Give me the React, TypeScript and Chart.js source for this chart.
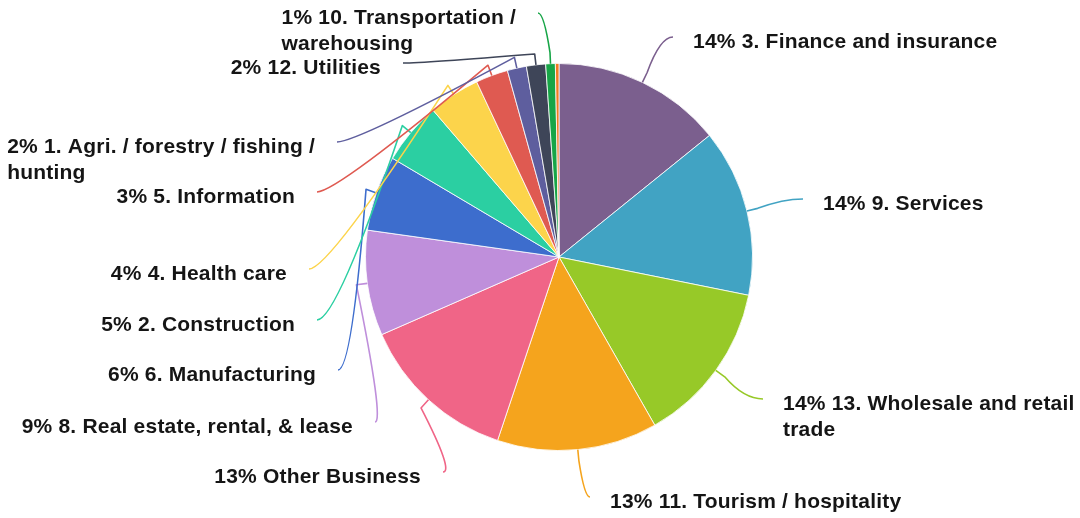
import React, { useEffect, useRef } from "react";
import { Chart, registerables } from "chart.js";

Chart.register(...registerables);

const categories = [
  "3. Finance and insurance",
  "9. Services",
  "13. Wholesale and retail trade",
  "11. Tourism / hospitality",
  "Other Business",
  "8. Real estate, rental, & lease",
  "6. Manufacturing",
  "2. Construction",
  "4. Health care",
  "5. Information",
  "1. Agri. / forestry / fishing / hunting",
  "12. Utilities",
  "10. Transportation / warehousing",
  "7.",
];

const values = [14.2, 14.0, 13.6, 13.4, 13.3, 8.8, 6.3, 5.2, 4.3, 2.7, 1.6, 1.6, 0.8, 0.3];

const colors = [
  "#7b5f8e",
  "#41a3c3",
  "#97c928",
  "#f5a41d",
  "#f06587",
  "#bf8fdb",
  "#3d6dcd",
  "#2bcfa2",
  "#fcd44b",
  "#df5a51",
  "#5e5e9e",
  "#3e4558",
  "#17a547",
  "#f07b22",
];

// label anchor offsets (end of leader line) relative to pie centre; layout only
const labelOffsets: ([number, number] | null)[] = [
  [114, -220],
  [244, -58],
  [204, 142],
  [31, 240],
  [-116, 215],
  [-184, 165],
  [-221, 113],
  [-242, 63],
  [-250, 12],
  [-242, -65],
  [-222, -115],
  [-156, -194],
  [-21, -244],
  null,
];

const FONT = "bold 21px 'Liberation Sans', Arial, sans-serif";
const MAX_W = 338;
const LINE_H = 26;

function wrap(ctx: CanvasRenderingContext2D, text: string, maxW: number): string[] {
  const words = text.split(" ");
  const lines: string[] = [];
  let cur = "";
  for (const w of words) {
    const t = cur ? cur + " " + w : w;
    if (ctx.measureText(t).width > maxW && cur) {
      lines.push(cur);
      cur = w;
    } else cur = t;
  }
  if (cur) lines.push(cur);
  return lines;
}

const labelPlugin = {
  id: "pieLabels",
  afterDatasetsDraw(chart: any) {
    const ctx: CanvasRenderingContext2D = chart.ctx;
    const meta = chart.getDatasetMeta(0);
    const total = values.reduce((a, b) => a + b, 0);
    ctx.save();
    ctx.font = FONT;
    (ctx as any).letterSpacing = "0.2px";
    meta.data.forEach((arc: any, i: number) => {
      const off = labelOffsets[i];
      if (!off) return;
      const { x, y, startAngle, endAngle, outerRadius } = arc.getProps(
        ["x", "y", "startAngle", "endAngle", "outerRadius"],
        true
      );
      const mid = (startAngle + endAngle) / 2;
      const cx = Math.cos(mid);
      const cy = Math.sin(mid);
      const p0x = x + cx * outerRadius;
      const p0y = y + cy * outerRadius;
      const p1x = x + cx * (outerRadius + 11);
      const p1y = y + cy * (outerRadius + 11);
      const ex = x + off[0];
      const ey = y + off[1];
      const side = off[0] >= 0 ? 1 : -1;
      const k = Math.min(20, Math.abs(ex - p1x) * 0.5);
      ctx.beginPath();
      ctx.strokeStyle = colors[i];
      ctx.lineWidth = 1.6;
      ctx.lineJoin = "round";
      ctx.moveTo(p0x, p0y);
      ctx.lineTo(p1x, p1y);
      ctx.quadraticCurveTo(ex - side * k, ey, ex, ey);
      ctx.stroke();

      const pct = Math.round((values[i] / total) * 100);
      const text = pct + "% " + categories[i];
      const lines = wrap(ctx, text, MAX_W);
      const blockW = Math.max(...lines.map((l) => ctx.measureText(l).width));
      const left = side > 0 ? ex + 20 : ex - 22 - blockW;
      ctx.fillStyle = "#151515";
      ctx.textAlign = "left";
      ctx.textBaseline = "middle";
      lines.forEach((l, li) => {
        ctx.fillText(l, left, ey + 5 + li * LINE_H);
      });
    });
    ctx.restore();
  },
};

export default function App() {
  const ref = useRef<HTMLCanvasElement | null>(null);
  useEffect(() => {
    document.body.style.margin = "0";
    const canvas = ref.current!;
    const chart = new Chart(canvas, {
      type: "pie",
      data: {
        labels: categories,
        datasets: [
          {
            data: values,
            backgroundColor: colors,
            borderColor: "rgba(255,255,255,0.8)",
            borderWidth: 1,
          },
        ],
      },
      options: {
        responsive: false,
        animation: false,
        layout: { padding: { top: 63, bottom: 67, left: 365, right: 327 } },
        plugins: {
          legend: { display: false },
          tooltip: { enabled: false },
        },
      },
      plugins: [labelPlugin],
    });
    return () => chart.destroy();
  }, []);
  return (
    <div style={{ width: 1080, height: 518, background: "#fff" }}>
      <canvas ref={ref} width={1080} height={518} style={{ display: "block" }} />
    </div>
  );
}
